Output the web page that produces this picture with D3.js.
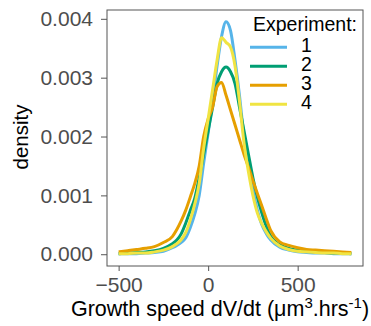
<!DOCTYPE html>
<html>
<head>
<meta charset="utf-8">
<script src="https://cdn.jsdelivr.net/npm/d3@7"></script>
<style>
  body { margin: 0; background: #fff; }
  svg { display: block; font-family: "Liberation Sans", Arial, sans-serif; }
</style>
</head>
<body>
<div id="chart"></div>
<script>
// growth speed grid (x) and density per experiment
const speed = [-500, -450, -400, -350, -300, -250, -200, -175, -150, -125, -100, -75, -50, -25, 0, 25, 50, 75,
  100, 125, 150, 175, 200, 225, 250, 275, 300, 325, 350, 400, 450, 500, 550, 600, 650, 700, 750, 800];

const exp1 = [0.00001, 0.00001, 0.00001, 0.00002, 0.00003, 0.00005, 0.00011, 0.00015, 0.0002, 0.00028, 0.00045,
  0.00068, 0.001, 0.00155, 0.00206, 0.0026, 0.0032, 0.0037, 0.00395, 0.0038, 0.0033, 0.0027, 0.002, 0.0015,
  0.00108, 0.00075, 0.0005, 0.00035, 0.00024, 0.00012, 0.00007, 0.00004, 0.00003, 0.00002, 0.00002, 0.00001,
  0.00001, 0.00001];
const exp2 = [0.00001, 0.00002, 0.00003, 0.00004, 0.00006, 0.0001, 0.00018, 0.00024, 0.00035, 0.00053, 0.00074,
  0.00095, 0.0013, 0.0017, 0.0021, 0.0025, 0.0029, 0.0031, 0.00318, 0.0031, 0.0029, 0.0025, 0.0021, 0.0017,
  0.0013, 0.00097, 0.0007, 0.00047, 0.0003, 0.00016, 0.0001, 0.00007, 0.00005, 0.00004, 0.00003, 0.00002,
  0.00002, 0.00001];
const exp3 = [0.00004, 0.00006, 0.00008, 0.0001, 0.00013, 0.0002, 0.0003, 0.00042, 0.00057, 0.00075, 0.00097,
  0.0012, 0.0015, 0.002, 0.0023, 0.0025, 0.00285, 0.00292, 0.0027, 0.00245, 0.0022, 0.00195, 0.0017, 0.00148,
  0.00125, 0.00103, 0.00082, 0.0006, 0.0004, 0.00021, 0.00015, 0.00011, 0.00008, 0.00007, 0.00006, 0.00005,
  0.00004, 0.00003];
const exp4 = [0.00001, 0.00001, 0.00002, 0.00002, 0.00004, 0.00007, 0.00013, 0.00018, 0.00025, 0.00037, 0.00058,
  0.00085, 0.0012, 0.0018, 0.0023, 0.0028, 0.0033, 0.00368, 0.0036, 0.00352, 0.0032, 0.0026, 0.0019, 0.0014,
  0.001, 0.0007, 0.00052, 0.00038, 0.00027, 0.00014, 0.00008, 0.00005, 0.00004, 0.00003, 0.00002, 0.00002,
  0.00001, 0.00001];

const experiments = ['1', '2', '3', '4'];
const seriesValues = [exp1, exp2, exp3, exp4];
const colors = ['#56B4E9', '#009E73', '#E69F00', '#F0E442'];

const xTicks = [-500, 0, 500];
const yTicks = [0, 0.001, 0.002, 0.003, 0.004];

const width = 371;
const height = 326;
const margin = { top: 10, right: 8, bottom: 60, left: 107 };
const tickFont = 21;
const legendFont = 19.5;

const svg = d3.select('#chart')
  .append('svg')
  .attr('width', width)
  .attr('height', height);

const x = d3.scaleLinear()
  .domain([-565, 865])
  .range([margin.left, width - margin.right]);
const y = d3.scaleLinear()
  .domain([-0.0002, 0.00415])
  .range([height - margin.bottom, margin.top]);

// axes
const xAxis = svg.append('g')
  .attr('transform', `translate(0,${height - margin.bottom})`)
  .call(d3.axisBottom(x).tickValues(xTicks).tickSize(5).tickPadding(6)
    .tickFormat(d => d3.format('d')(d).replace('-', '\u2212')));
const yAxis = svg.append('g')
  .attr('transform', `translate(${margin.left},0)`)
  .call(d3.axisLeft(y).tickValues(yTicks).tickSize(6).tickPadding(8)
    .tickFormat(d3.format('.3f')));

[xAxis, yAxis].forEach(g => {
  g.select('.domain').remove();
  g.selectAll('.tick line').attr('stroke', '#555').attr('stroke-width', 1);
  g.selectAll('.tick text')
    .attr('fill', '#4d4d4d')
    .style('font-size', tickFont + 'px')
    .style('font-family', '"Liberation Sans", Arial, sans-serif');
});

// density lines
const line = d3.line()
  .x((d, i) => x(speed[i]))
  .y(d => y(d))
  .curve(d3.curveMonotoneX);

seriesValues.forEach((vals, k) => {
  svg.append('path')
    .datum(vals)
    .attr('fill', 'none')
    .attr('stroke', colors[k])
    .attr('stroke-width', 3)
    .attr('stroke-linejoin', 'round')
    .attr('d', line);
});

// panel border
svg.append('rect')
  .attr('x', margin.left)
  .attr('y', margin.top)
  .attr('width', width - margin.left - margin.right)
  .attr('height', height - margin.top - margin.bottom)
  .attr('fill', 'none')
  .attr('stroke', '#555')
  .attr('stroke-width', 1);

// axis titles
svg.append('text')
  .attr('x', 220)
  .attr('y', 316)
  .attr('text-anchor', 'middle')
  .style('font-size', '21.5px')
  .attr('fill', '#000')
  .html('Growth speed dV/dt (\u03bcm<tspan dy="-8" font-size="15">3</tspan><tspan dy="8">.hrs</tspan><tspan dy="-8" font-size="15">-1</tspan><tspan dy="8">)</tspan>');

svg.append('text')
  .attr('transform', `translate(28,137) rotate(-90)`)
  .attr('text-anchor', 'middle')
  .style('font-size', '20.5px')
  .attr('fill', '#000')
  .text('density');

// legend
const legend = svg.append('g');
legend.append('text')
  .attr('x', 253)
  .attr('y', 31)
  .style('font-size', legendFont + 'px')
  .attr('fill', '#000')
  .text('Experiment:');

experiments.forEach((name, i) => {
  const ly = 47.3 + i * 19;
  legend.append('line')
    .attr('x1', 250).attr('x2', 287)
    .attr('y1', ly).attr('y2', ly)
    .attr('stroke', colors[i])
    .attr('stroke-width', 3);
  legend.append('text')
    .attr('x', 301)
    .attr('y', ly + 5)
    .style('font-size', legendFont + 'px')
    .attr('fill', '#000')
    .text(name);
});
</script>
</body>
</html>
